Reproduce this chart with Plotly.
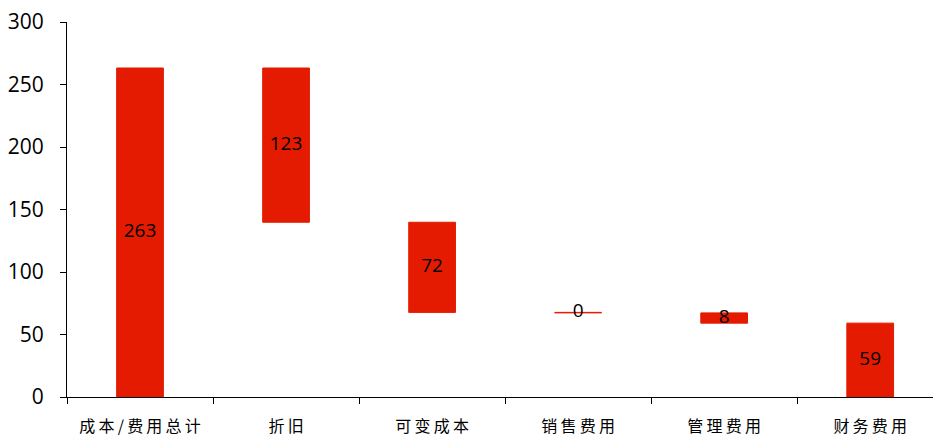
import plotly.graph_objects as go

# Cost breakdown (bridge chart): total followed by its components
categories = ["成本/费用总计", "折旧", "可变成本", "销售费用", "管理费用", "财务费用"]
values = [263.2, 123.4, 72.1, 0.4, 8.2, 59.1]
y_ticks = [0, 50, 100, 150, 200, 250, 300]

# Floating bases: the total starts at zero, each component hangs below the previous one
bases = [0.0]
level = values[0]
for v in values[1:]:
    level -= v
    bases.append(max(level, 0.0))

mids = [b + v / 2 for b, v in zip(bases, values)]
labels = [f"{v:.0f}" for v in values]
# category labels are set with a little letter spacing
spaced_categories = ["\u2009".join(c) for c in categories]

BAR_RED = "#E41B00"

fig = go.Figure()
fig.add_trace(go.Bar(
    x=categories,
    y=values,
    base=bases,
    width=0.32,
    marker=dict(color=BAR_RED, line=dict(color=BAR_RED, width=1)),
    hoverinfo="skip",
    showlegend=False,
))
fig.add_trace(go.Scatter(
    x=categories,
    y=mids,
    mode="text",
    text=labels,
    textposition="middle center",
    textfont=dict(family="Open Sans, Noto Sans, sans-serif", size=19, color="#000000"),
    hoverinfo="skip",
    showlegend=False,
))

fig.update_layout(
    width=933,
    height=436,
    margin=dict(l=67, r=0, t=22, b=39),
    paper_bgcolor="white",
    plot_bgcolor="white",
    xaxis=dict(
        type="category",
        range=[-0.5, 5.43],
        tickvals=categories,
        ticktext=spaced_categories,
        showline=True,
        linecolor="#000000",
        linewidth=1,
        ticks="outside",
        tickson="boundaries",
        ticklen=6,
        tickcolor="#000000",
        ticklabelstandoff=15,
        showgrid=False,
        zeroline=False,
        tickfont=dict(family="Noto Sans CJK SC", size=16, color="#000000"),
    ),
    yaxis=dict(
        range=[0, 300],
        tickvals=y_ticks,
        showline=True,
        linecolor="#000000",
        linewidth=1,
        ticks="outside",
        ticklen=6,
        tickcolor="#000000",
        ticklabelstandoff=12,
        showgrid=False,
        zeroline=False,
        tickfont=dict(family="Open Sans, Noto Sans, sans-serif", size=21, color="#000000"),
    ),
)

fig.write_html("out.html")
